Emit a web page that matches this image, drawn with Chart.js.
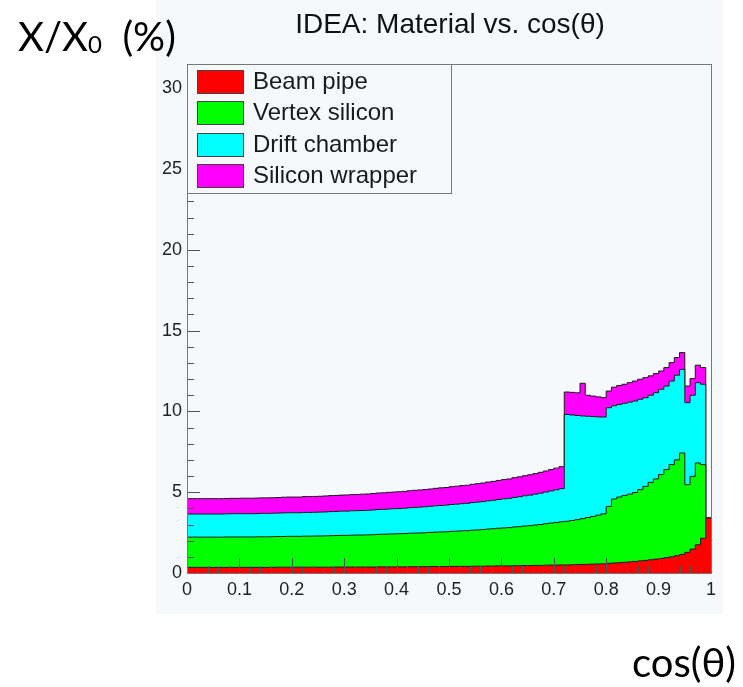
<!DOCTYPE html>
<html lang="en">
<head>
<meta charset="UTF-8">
<title>IDEA: Material vs. cos(θ)</title>
<script src="https://cdn.jsdelivr.net/npm/chart.js"></script>
<style>
  body { margin: 0; background: #fff; }
  .page { position: relative; width: 743px; height: 687px; overflow: hidden; }
  .pad { position: absolute; left: 156px; top: 0; width: 567px; height: 614px; background: #f5f9fc; }
  canvas { position: absolute; left: 0; top: 0; }
  .title { position: absolute; left: 450px; top: 10px; transform: translateX(-50%); white-space: nowrap;
           font: 28px "Liberation Sans", Arial, sans-serif; line-height: 1; color: #111; }
  .ylab { position: absolute; left: 18px; top: 16px; white-space: nowrap;
          font: 40px Lato, "Noto Sans", sans-serif; line-height: 1; color: #000; }
  .ylab sub { font-size: 0.6em; vertical-align: baseline; position: relative; top: 0.1em; }
  .xlab { position: absolute; left: 632px; top: 642px; white-space: nowrap;
          font: 40px Lato, "Noto Sans", sans-serif; line-height: 1; color: #000; }
</style>
</head>
<body>
<div class="page">
  <div class="pad"></div>
  <canvas id="matChart" width="743" height="687"></canvas>
  <div class="title">IDEA: Material vs. cos(θ)</div>
  <div class="ylab">X/X<sub>0</sub>&nbsp;&nbsp;(%)</div>
  <div class="xlab">cos(θ)</div>
</div>

<script>
// 100 bins in cos(theta), 0 -> 1
var nBins = 100;
var xTicks = [0, 0.1, 0.2, 0.3, 0.4, 0.5, 0.6, 0.7, 0.8, 0.9, 1];
var yTicks = [0, 5, 10, 15, 20, 25, 30];

// X/X0 (%) per subsystem, one value per bin
var beamPipe = [
  0.35,0.35,0.35,0.35,0.35,0.35,0.35,0.35,0.35,0.35,
  0.35,0.35,0.35,0.35,0.35,0.35,0.35,0.36,0.36,0.36,
  0.36,0.36,0.36,0.36,0.36,0.36,0.36,0.36,0.37,0.37,
  0.37,0.37,0.37,0.37,0.37,0.37,0.38,0.38,0.38,0.38,
  0.38,0.38,0.39,0.39,0.39,0.39,0.40,0.40,0.40,0.40,
  0.41,0.41,0.41,0.41,0.42,0.42,0.42,0.43,0.43,0.44,
  0.44,0.44,0.45,0.45,0.46,0.46,0.47,0.47,0.48,0.49,
  0.49,0.50,0.50,0.51,0.52,0.53,0.54,0.55,0.56,0.57,
  0.60,0.62,0.64,0.66,0.69,0.72,0.75,0.78,0.82,0.86,
  0.90,0.95,1.00,1.07,1.15,1.28,1.48,1.75,2.15,3.40
];
var vertexSilicon = [
  1.87,1.87,1.87,1.87,1.87,1.87,1.87,1.88,1.88,1.88,
  1.88,1.88,1.88,1.89,1.89,1.89,1.90,1.90,1.90,1.91,
  1.91,1.91,1.92,1.92,1.93,1.93,1.94,1.95,1.95,1.96,
  1.96,1.97,1.98,1.98,1.99,2.00,2.01,2.02,2.03,2.04,
  2.05,2.06,2.07,2.08,2.09,2.10,2.11,2.13,2.14,2.15,
  2.17,2.18,2.20,2.21,2.23,2.25,2.27,2.29,2.31,2.33,
  2.35,2.37,2.40,2.42,2.45,2.47,2.50,2.53,2.57,2.60,
  2.64,2.67,2.70,2.74,2.78,2.83,2.89,2.95,3.02,3.09,
  3.52,3.96,4.06,4.14,4.19,4.26,4.41,4.58,4.79,4.96,
  5.19,5.45,5.71,5.93,6.28,4.19,4.50,5.06,4.56,0
];
var driftChamber = [
  1.43,1.43,1.43,1.43,1.43,1.43,1.43,1.43,1.44,1.44,
  1.44,1.44,1.44,1.44,1.45,1.45,1.45,1.45,1.46,1.46,
  1.46,1.46,1.47,1.47,1.47,1.48,1.48,1.49,1.49,1.50,
  1.50,1.51,1.51,1.52,1.52,1.53,1.54,1.54,1.55,1.56,
  1.56,1.57,1.58,1.59,1.60,1.61,1.62,1.63,1.64,1.65,
  1.66,1.67,1.68,1.69,1.71,1.72,1.73,1.75,1.76,1.78,
  1.80,1.81,1.83,1.85,1.87,1.89,1.91,1.94,1.96,1.99,
  2.02,2.05,6.61,6.53,6.45,6.36,6.27,6.18,6.08,5.99,
  6.11,5.77,5.73,5.70,5.69,5.66,5.59,5.49,5.39,5.34,
  5.28,5.17,5.17,5.24,5.17,5.07,5.02,4.97,4.97,0
];
var siliconWrapper = [
  0.95,0.95,0.95,0.95,0.95,0.95,0.95,0.95,0.95,0.95,
  0.96,0.96,0.96,0.96,0.96,0.96,0.96,0.96,0.97,0.97,
  0.97,0.97,0.98,0.98,0.98,0.98,0.99,0.99,0.99,0.99,
  1.00,1.00,1.00,1.01,1.01,1.02,1.02,1.02,1.03,1.03,
  1.04,1.04,1.05,1.06,1.06,1.07,1.07,1.08,1.09,1.09,
  1.10,1.11,1.12,1.12,1.13,1.14,1.15,1.16,1.17,1.18,
  1.19,1.20,1.22,1.23,1.24,1.26,1.27,1.29,1.30,1.32,
  1.34,1.36,1.39,1.40,1.40,2.02,1.30,1.27,1.24,1.20,
  1.03,1.15,1.17,1.18,1.21,1.24,1.24,1.24,1.20,1.18,
  1.13,1.14,1.14,1.09,1.04,1.03,1.03,1.08,1.03,0
];

// histogram -> stepped points on bin low edges (last edge repeats last bin)
function toSteps(values) {
  var pts = [];
  for (var i = 0; i < nBins; i++) pts.push({ x: i / nBins, y: values[i] });
  pts.push({ x: 1, y: values[nBins - 1] });
  return pts;
}

var tickFont = { family: '"Liberation Sans", Arial, sans-serif', size: 18 };

// ROOT style: inward ticks, grey frame, boxed legend in the top-left corner
var rootAxes = {
  id: 'rootAxes',
  afterDatasetsDraw: function(chart) {
    var ctx = chart.ctx, a = chart.chartArea, x = chart.scales.x, y = chart.scales.y;
    ctx.save();
    ctx.strokeStyle = '#555';
    ctx.lineWidth = 1;
    ctx.beginPath();
    for (var i = 0; i < xTicks.length; i++) {
      var px = Math.round(x.getPixelForValue(xTicks[i])) + 0.5;
      ctx.moveTo(px, a.bottom); ctx.lineTo(px, a.bottom - 15);
      if (i < xTicks.length - 1) {
        var st = (xTicks[i + 1] - xTicks[i]) / 5;
        for (var k = 1; k < 5; k++) {
          var mx = Math.round(x.getPixelForValue(xTicks[i] + k * st)) + 0.5;
          ctx.moveTo(mx, a.bottom); ctx.lineTo(mx, a.bottom - 7);
        }
      }
    }
    for (var j = 0; j < yTicks.length; j++) {
      var py = Math.round(y.getPixelForValue(yTicks[j])) + 0.5;
      ctx.moveTo(a.left, py); ctx.lineTo(a.left + 13, py);
      var sy = (yTicks[1] - yTicks[0]) / 5;
      for (var m = 1; m < 5; m++) {
        var v = yTicks[j] + m * sy;
        if (v > y.max) break;
        var my = Math.round(y.getPixelForValue(v)) + 0.5;
        ctx.moveTo(a.left, my); ctx.lineTo(a.left + 7, my);
      }
    }
    ctx.stroke();

    ctx.strokeStyle = '#777';
    ctx.strokeRect(Math.round(a.left) + 0.5, Math.round(a.top) + 0.5, Math.round(a.width), Math.round(a.height));

    // legend
    var lx = Math.round(a.left), ly = Math.round(a.top), lw = 264, lh = 129;
    ctx.fillStyle = '#f5f9fc';
    ctx.fillRect(lx, ly, lw, lh);
    ctx.strokeStyle = '#777';
    ctx.strokeRect(lx + 0.5, ly + 0.5, lw, lh);
    ctx.font = '24px "Liberation Sans", Arial, sans-serif';
    ctx.textBaseline = 'middle';
    chart.data.datasets.forEach(function(d, n) {
      var top = Math.round(ly + 6 + n * 31.3);
      ctx.fillStyle = d.backgroundColor;
      ctx.fillRect(lx + 10, top, 46, 23);
      ctx.strokeStyle = '#444';
      ctx.strokeRect(lx + 10.5, top + 0.5, 46, 23);
      ctx.fillStyle = '#1a1a1a';
      ctx.fillText(d.label, lx + 66, top + 12);
    });
    ctx.restore();
  }
};

var ctx = document.getElementById('matChart').getContext('2d');
var matChart = new Chart(ctx, {
  type: 'line',
  data: {
    datasets: [
      { label: 'Beam pipe', data: toSteps(beamPipe), backgroundColor: '#ff0000', fill: 'origin' },
      { label: 'Vertex silicon', data: toSteps(vertexSilicon), backgroundColor: '#00ff00', fill: '-1' },
      { label: 'Drift chamber', data: toSteps(driftChamber), backgroundColor: '#00ffff', fill: '-1' },
      { label: 'Silicon wrapper', data: toSteps(siliconWrapper), backgroundColor: '#ff00ff', fill: '-1' }
    ]
  },
  options: {
    responsive: false,
    animation: false,
    layout: { padding: { left: 0, right: 32, top: 64, bottom: 0 } },
    elements: {
      point: { radius: 0, hoverRadius: 0 },
      // 'before' = value holds from this edge to the next one
      line: { borderWidth: 1, borderColor: '#1a1a1a', stepped: 'before', tension: 0 }
    },
    plugins: {
      legend: { display: false },
      tooltip: { enabled: false },
      title: { display: false }
    },
    scales: {
      x: {
        type: 'linear', min: 0, max: 1,
        grid: { display: false, drawTicks: false },
        border: { display: false },
        afterFit: function(s) { s.height = 114; },
        afterBuildTicks: function(s) { s.ticks = xTicks.map(function(v) { return { value: v }; }); },
        ticks: { padding: 6, color: '#222', font: tickFont, maxRotation: 0, autoSkip: false,
                 callback: function(v) { return String(v); } }
      },
      y: {
        stacked: true, min: 0, max: 31.5,
        grid: { display: false, drawTicks: false },
        border: { display: false },
        afterFit: function(s) { s.width = 187; },
        afterBuildTicks: function(s) { s.ticks = yTicks.map(function(v) { return { value: v }; }); },
        ticks: { padding: 5, color: '#222', font: tickFont, autoSkip: false,
                 callback: function(v) { return String(v); } }
      }
    }
  },
  plugins: [rootAxes]
});
</script>
</body>
</html>
